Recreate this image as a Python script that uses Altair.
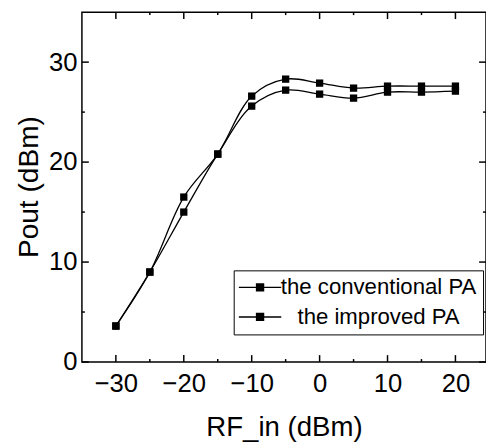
import altair as alt
import pandas as pd

# data
rf_in = [-30, -25, -20, -15, -10, -5, 0, 5, 10, 15, 20]
conventional = [3.6, 9.0, 15.0, 20.8, 25.6, 27.2, 26.8, 26.4, 27.0, 27.0, 27.1]
improved = [3.6, 9.0, 16.5, 20.8, 26.6, 28.3, 27.9, 27.4, 27.6, 27.6, 27.6]
series_names = ["the conventional PA", "the improved PA"]

x_major = [-30, -20, -10, 0, 10, 20]
x_minor = [-25, -15, -5, 5, 15]
y_major = [0, 10, 20, 30]
y_minor = [5, 15, 25]

rows = []
for name, vals in zip(series_names, [conventional, improved]):
    for xv, yv in zip(rf_in, vals):
        rows.append({"series": name, "x": xv, "y": yv})
df = pd.DataFrame(rows)

W, H = 410, 355
FONT = "Liberation Sans"

xscale = alt.Scale(domain=[-35, 24.5], nice=False, zero=False)
yscale = alt.Scale(domain=[0, 35], nice=False, zero=False)

x_axis = alt.Axis(values=x_major, ticks=False, tickSize=0, domain=False, grid=False,
                  labelFontSize=26, labelFont=FONT, labelColor="black", labelPadding=9,
                  title="RF_in (dBm)", titleFontSize=28, titleFont=FONT, titleFontWeight="normal",
                  titleColor="black", titleBaseline="alphabetic", titleY=75)
y_axis = alt.Axis(values=[0, 10, 20, 30], ticks=False, tickSize=0, domain=False, grid=False,
                  labelFontSize=26, labelFont=FONT, labelColor="black", labelPadding=5,
                  title="Pout (dBm)", titleFontSize=28.5, titleFont=FONT, titleFontWeight="normal",
                  titleColor="black", titleBaseline="alphabetic", titleX=-45, titleY=177,
                  titleAlign="center")

color = alt.Color(
    "series:N",
    sort=series_names,
    scale=alt.Scale(domain=series_names, range=["black", "black"]),
    legend=alt.Legend(
        title=None, orient="none", legendX=154, legendY=262,
        strokeColor="black", fillColor="white", padding=6, cornerRadius=0,
        labelFont=FONT, labelFontSize=22.5, labelColor="black", labelLimit=0,
        labelAlign="center", labelOffset=109, rowPadding=7,
        symbolType="M-2.15,0H2.15M-0.35,-0.35H0.35V0.35H-0.35Z",
        symbolSize=400, symbolOffset=9.5, symbolStrokeWidth=1.5, symbolFillColor="black",
        symbolStrokeColor="black", symbolOpacity=1,
    ),
)

base = alt.Chart(df)
lines = base.mark_line(interpolate="catmull-rom", strokeWidth=1.3).encode(
    x=alt.X("x:Q", scale=xscale, axis=x_axis),
    y=alt.Y("y:Q", scale=yscale, axis=y_axis),
    color=color,
    detail="series:N",
)
points = base.mark_point(shape="square", filled=True, size=55, opacity=1).encode(
    x=alt.X("x:Q", scale=xscale),
    y=alt.Y("y:Q", scale=yscale),
    color=alt.Color("series:N", scale=alt.Scale(domain=series_names, range=["black", "black"]), legend=None),
)

tick_x_major = pd.DataFrame({"v": x_major})
tick_x_minor = pd.DataFrame({"v": x_minor})
tick_y_major = pd.DataFrame({"v": y_major})
tick_y_minor = pd.DataFrame({"v": y_minor})

def xticks(d, length):
    bottom = alt.Chart(d).mark_rule(color="black", strokeWidth=1.5).encode(
        x=alt.X("v:Q", scale=xscale), y=alt.value(H), y2=alt.value(H - length))
    top = alt.Chart(d).mark_rule(color="black", strokeWidth=1.5).encode(
        x=alt.X("v:Q", scale=xscale), y=alt.value(0), y2=alt.value(length))
    return [bottom, top]

def yticks(d, length):
    left = alt.Chart(d).mark_rule(color="black", strokeWidth=1.5).encode(
        y=alt.Y("v:Q", scale=yscale), x=alt.value(0), x2=alt.value(length))
    right = alt.Chart(d).mark_rule(color="black", strokeWidth=1.5).encode(
        y=alt.Y("v:Q", scale=yscale), x=alt.value(W), x2=alt.value(W - length))
    return [left, right]

tick_layers = xticks(tick_x_major, 7) + xticks(tick_x_minor, 3) + yticks(tick_y_major, 7) + yticks(tick_y_minor, 3)

chart = alt.layer(lines, points, *tick_layers).properties(
    width=W, height=H,
    autosize=alt.AutoSizeParams(type="none"),
    padding={"left": 75, "top": 1, "right": 0, "bottom": 82},
    background="white",
).configure_view(stroke="black", strokeWidth=1.5)

chart.save("out.html", embed_options={"renderer": "svg", "actions": False})
